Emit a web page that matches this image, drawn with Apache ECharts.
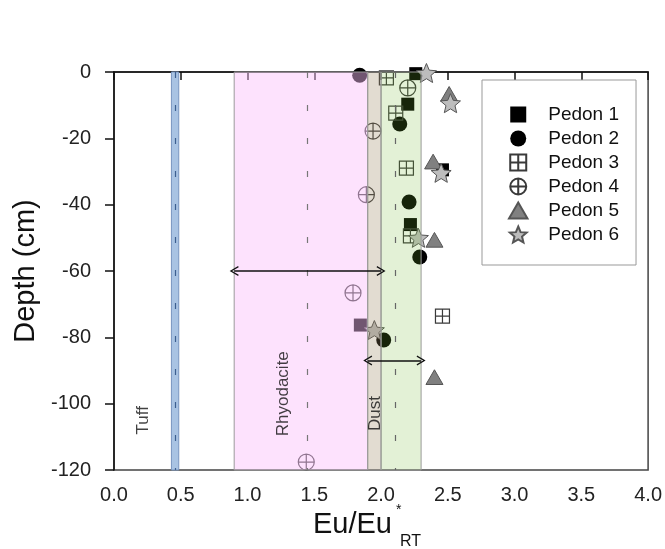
<!DOCTYPE html>
<html><head><meta charset="utf-8">
<script src="https://cdn.jsdelivr.net/npm/echarts@6/dist/echarts.min.js"></script>
<style>html,body{margin:0;padding:0;background:#fff}#c{width:665px;height:549px}</style>
</head><body><div id="c"></div>
<script>
// ---- data ----
const xTicks = [0, 0.5, 1, 1.5, 2, 2.5, 3, 3.5, 4];
const yTicks = [0, -20, -40, -60, -80, -100, -120];
const seriesNames = ['Pedon 1', 'Pedon 2', 'Pedon 3', 'Pedon 4', 'Pedon 5', 'Pedon 6'];
const p1x = [2.26, 2.20, 2.46, 2.22, 1.845];
const p1y = [-0.5, -9.7, -29.5, -46, -76.3];
const p2x = [1.84, 2.14, 2.21, 2.29, 2.02];
const p2y = [-1, -15.7, -39.2, -55.8, -80.8];
const p3x = [2.04, 2.11, 2.19, 2.22, 2.46];
const p3y = [-1.8, -12.4, -29, -49.4, -73.6];
const p4x = [2.20, 1.94, 1.89, 1.79, 1.44];
const p4y = [-4.8, -17.8, -37, -66.6, -117.6];
const p5x = [2.51, 2.39, 2.40, 2.40];
const p5y = [-6.6, -27, -50.6, -92];
const p6x = [2.34, 2.52, 2.45, 2.28, 1.95];
const p6y = [-0.3, -9.4, -30.4, -50, -77.8];
// source ranges (Eu/Eu*)
const bandNames = ['Tuff', 'Rhyodacite', 'Dust'];
const tuffRange = [0.43, 0.485];
const tuffMean = 0.455;
const rhyoRange = [0.9, 1.9];
const rhyoMean = 1.45;
const dustLowRange = [1.9, 2.0];
const dustRange = [2.0, 2.3];
const dustMean = 2.11;
const rhyoArrow = { y: -60, from: 0.9, to: 2.0 };
const dustArrow = { y: -87, from: 1.9, to: 2.3 };
const labelPos = [[0.22, -105], [1.27, -97], [1.96, -103]];

const zip = (xs, ys) => xs.map((v, i) => [v, ys[i]]);
const FONT = 'Arial, "Liberation Sans", sans-serif';
const SQ = 'path://M0,0L10,0L10,10L0,10Z';
const TRI = 'path://M5,0L10,8.66L0,8.66Z';
const SQX = 'path://M0,0L10,0L10,10L0,10Z M5,0L5,10 M0,5L10,5';
const CIX = 'path://M10,5A5,5,0,1,1,0,5A5,5,0,1,1,10,5Z M5,0L5,10 M0,5L10,5';
const STAR = 'path://M100,0L126.5,63.6L195.1,69.1L142.8,113.9L158.8,180.9L100,145L41.2,180.9L57.2,113.9L4.9,69.1L73.5,63.6Z';
const CHEV = 'path://M0,9L5,0L10,9L8.8,9.6L5,2.6L1.2,9.6Z';

const pedons = [
  { d: zip(p1x, p1y), symbol: SQ, size: 13, it: { color: '#000' } },
  { d: zip(p2x, p2y), symbol: 'circle', size: 15, it: { color: '#000' } },
  { d: zip(p3x, p3y), symbol: SQX, size: 14, it: { color: 'rgba(0,0,0,0)', borderColor: '#3a3a3a', borderWidth: 1.2 } },
  { d: zip(p4x, p4y), symbol: CIX, size: 16, it: { color: 'rgba(0,0,0,0)', borderColor: '#3a3a3a', borderWidth: 1.2 } },
  { d: zip(p5x, p5y), symbol: TRI, size: 17, it: { color: '#808080', borderColor: '#555', borderWidth: 1 } },
  { d: zip(p6x, p6y), symbol: STAR, size: 20, it: { color: '#bdbdbd', borderColor: '#555', borderWidth: 1 } }
];

const series = pedons.map((p, i) => ({
  name: seriesNames[i], type: 'scatter', z: 3,
  data: p.d, symbol: p.symbol, symbolSize: p.size, symbolKeepAspect: true,
  itemStyle: Object.assign({ opacity: 1 }, p.it), emphasis: { disabled: true }
}));

// overlay bands (semi-transparent, drawn over the points like the original)
series.push({
  type: 'scatter', z: 10, data: [], silent: true,
  markArea: {
    silent: true, z: 10,
    data: [
      [{ xAxis: tuffRange[0], yAxis: 0, itemStyle: { color: '#a9c3e3', opacity: 1, borderColor: '#7895c0', borderWidth: 1 } }, { xAxis: tuffRange[1], yAxis: -120 }],
      [{ xAxis: rhyoRange[0], yAxis: 0, itemStyle: { color: 'rgba(250,190,250,0.45)', opacity: 1, borderColor: '#9a9a9a', borderWidth: 1 } }, { xAxis: rhyoRange[1], yAxis: -120 }],
      [{ xAxis: dustLowRange[0], yAxis: 0, itemStyle: { color: 'rgba(150,130,90,0.28)', opacity: 1, borderColor: '#9a9a9a', borderWidth: 1 } }, { xAxis: dustLowRange[1], yAxis: -120 }],
      [{ xAxis: dustRange[0], yAxis: 0, itemStyle: { color: 'rgba(115,185,50,0.2)', opacity: 1, borderColor: '#9a9a9a', borderWidth: 1 } }, { xAxis: dustRange[1], yAxis: -120 }]
    ]
  },
  markLine: {
    silent: true, z: 12, symbol: ['none', 'none'], label: { show: false },
    data: [
      [{ coord: [tuffMean, 0], lineStyle: { color: '#3d5f90', width: 1.2, type: [6, 27] } }, { coord: [tuffMean, -120] }],
      [{ coord: [rhyoMean, 0], lineStyle: { color: '#777', width: 1.2, type: [6, 27] } }, { coord: [rhyoMean, -120] }],
      [{ coord: [dustMean, 0], lineStyle: { color: '#666', width: 1.2, type: [6, 27] } }, { coord: [dustMean, -120] }]
    ]
  }
});

// arrows
series.push({
  type: 'scatter', z: 20, data: [], silent: true,
  markLine: {
    silent: true, z: 20, symbol: [CHEV, CHEV], symbolSize: [10, 9], label: { show: false },
    lineStyle: { color: '#111', width: 1.5, type: 'solid', opacity: 1 },
    data: [
      [{ coord: [rhyoArrow.from, rhyoArrow.y] }, { coord: [rhyoArrow.to, rhyoArrow.y] }],
      [{ coord: [dustArrow.from, dustArrow.y] }, { coord: [dustArrow.to, dustArrow.y] }]
    ]
  }
});

// band labels
series.push({
  type: 'scatter', z: 21, silent: true, symbolSize: 0,
  data: labelPos.map((p, i) => ({ value: p, name: bandNames[i] })),
  label: { show: true, position: 'inside', rotate: 90, formatter: '{b}', color: '#111', fontSize: 17, fontFamily: FONT }
});

const chart = echarts.init(document.getElementById('c'), null, { renderer: 'canvas' });
chart.setOption({
  animation: false,
  backgroundColor: '#fff',
  grid: { left: 114, right: 14, top: 72, bottom: 79, show: true, borderColor: '#444', borderWidth: 1.5, backgroundColor: 'transparent' },
  xAxis: {
    type: 'value', min: xTicks[0], max: xTicks[xTicks.length - 1], interval: xTicks[1] - xTicks[0],
    axisLine: { show: true, lineStyle: { color: '#111', width: 1.5 } },
    axisTick: { show: true, length: 8, lineStyle: { color: '#111', width: 1.5 } },
    axisLabel: { fontSize: 20, color: '#222', fontFamily: FONT, margin: 15, formatter: v => v.toFixed(1) },
    splitLine: { show: false }
  },
  yAxis: {
    type: 'value', min: yTicks[yTicks.length - 1], max: yTicks[0], interval: 20,
    name: 'Depth (cm)', nameLocation: 'middle', nameGap: 74,
    nameTextStyle: { fontSize: 29, color: '#111', fontFamily: FONT },
    axisLine: { show: true, lineStyle: { color: '#111', width: 1.5 } },
    axisTick: { show: true, length: 9, lineStyle: { color: '#111', width: 1.5 } },
    axisLabel: { fontSize: 20, color: '#222', fontFamily: FONT, margin: 23 },
    splitLine: { show: false }
  },
  legend: {
    data: seriesNames, orient: 'vertical', left: 482, top: 80,
    padding: [25, 17, 21, 26], itemWidth: 50, itemHeight: 16, itemGap: 5,
    borderColor: '#999', borderWidth: 1, backgroundColor: '#fff', z: 30,
    textStyle: { fontSize: 19, color: '#111', fontFamily: FONT }
  },
  graphic: [
    { type: 'text', left: 313, top: 510, z: 50, style: { text: 'Eu/Eu', fontSize: 29, fill: '#111', fontFamily: FONT } },
    { type: 'text', left: 396, top: 503, z: 50, style: { text: '*', fontSize: 14, fill: '#111', fontFamily: FONT } },
    { type: 'text', left: 400, top: 534, z: 50, style: { text: 'RT', fontSize: 16, fill: '#111', fontFamily: FONT } }
  ],
  series: series
});
</script></body></html>
